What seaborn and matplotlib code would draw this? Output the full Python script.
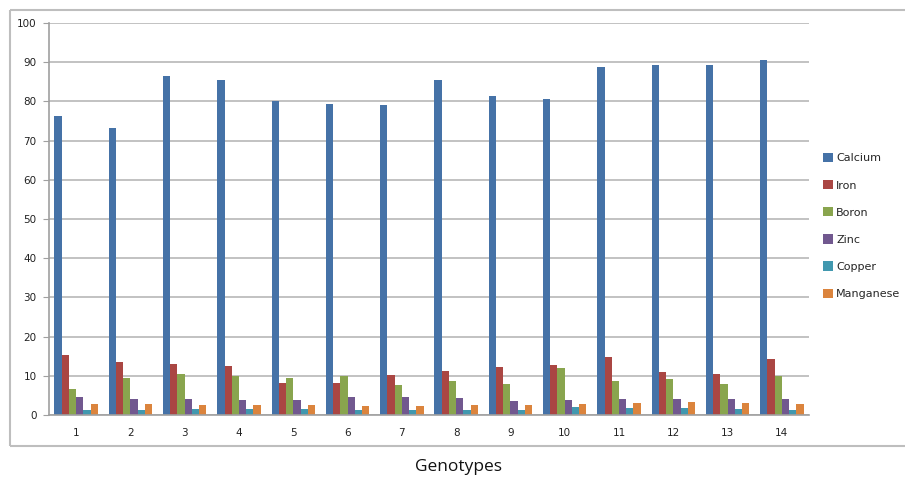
import matplotlib
matplotlib.use("Agg")
import matplotlib.pyplot as plt
import pandas as pd
import seaborn as sns
from matplotlib.lines import Line2D


genotypes = [str(i) for i in range(1, 15)]
minerals = ["Calcium", "Iron", "Boron", "Zinc", "Copper", "Manganese"]

calcium = [76.2, 73.3, 86.6, 85.5, 80.1, 79.3, 79.0, 85.5, 81.3, 80.6, 88.9, 89.4, 89.4, 90.6]
iron = [15.3, 13.6, 13.1, 12.5, 8.1, 8.1, 10.2, 11.2, 12.2, 12.8, 14.7, 11.0, 10.4, 14.2]
boron = [6.6, 9.5, 10.4, 9.9, 9.5, 9.9, 7.6, 8.6, 7.9, 12.0, 8.6, 9.3, 7.8, 9.9]
zinc = [4.6, 4.2, 4.0, 3.8, 3.7, 4.5, 4.5, 4.4, 3.5, 3.8, 4.2, 4.2, 4.2, 4.2]
copper = [1.4, 1.4, 1.6, 1.6, 1.6, 1.4, 1.4, 1.4, 1.4, 2.0, 1.8, 1.8, 1.5, 1.4]
manganese = [2.8, 2.8, 2.6, 2.5, 2.5, 2.2, 2.2, 2.6, 2.6, 2.8, 3.0, 3.2, 3.1, 2.9]

colors = ["#4572A7", "#AA4643", "#89A54E", "#71588F", "#4198AF", "#DB843D"]


def build_table() -> pd.DataFrame:
    series = [calcium, iron, boron, zinc, copper, manganese]
    rows = []
    for name, values in zip(minerals, series):
        for g, v in zip(genotypes, values):
            rows.append({"Genotype": g, "Mineral": name, "Value": v})
    return pd.DataFrame(rows)


def main() -> None:
    df = build_table()

    sns.set_style("white")
    plt.rcParams["font.family"] = ["DejaVu Sans"]

    fig = plt.figure(figsize=(9.08, 4.79), dpi=100)
    fig.patch.set_edgecolor("white")
    fig.patch.set_linewidth(0)
    ax = fig.add_axes([49 / 908, 1 - 415 / 479, (809 - 49) / 908, (415 - 23) / 479])

    sns.barplot(
        data=df, x="Genotype", y="Value", hue="Mineral",
        order=genotypes, hue_order=minerals, palette=colors,
        width=0.8, ax=ax, legend=True, saturation=1, linewidth=0,
    )

    ax.set_ylim(0, 100)
    ax.set_xlim(-0.5, 13.5)
    ax.set_yticks(range(0, 101, 10))
    ax.yaxis.grid(True, color="#B8B8B8", linewidth=1.2)
    ax.set_axisbelow(True)
    ax.set_xlabel("")
    ax.set_ylabel("")

    # category separators like the spreadsheet chart
    ax.set_xticks([i - 0.5 for i in range(15)], minor=True)
    ax.tick_params(axis="x", which="minor", length=5, color="#A0A0A0", width=1)
    ax.tick_params(axis="x", which="major", length=0, labelsize=7.5, pad=9, labelcolor="#222222")
    ax.tick_params(axis="y", length=4, color="#A0A0A0", labelsize=7.5, pad=5, left=True,
                   labelcolor="#222222")

    for side in ["top", "right"]:
        ax.spines[side].set_visible(False)
    for side in ["left", "bottom"]:
        ax.spines[side].set_color("#A0A0A0")
        ax.spines[side].set_linewidth(1.2)

    handles, labels = ax.get_legend_handles_labels()
    ax.get_legend().remove()
    fig.legend(
        handles, labels, loc="upper left", bbox_to_anchor=(813 / 908, 1 - 143 / 479),
        frameon=False, fontsize=8, handlelength=0.9, handleheight=0.9,
        handletextpad=0.3, labelspacing=1.5,
    )

    # outer chart frame: left, top and bottom edges only (right edge is cut off)
    x0, x1 = 10 / 908, 905 / 908
    y0, y1 = 1 - 446 / 479, 1 - 10 / 479
    frame = dict(transform=fig.transFigure, color="#BEBEBE", linewidth=1.5,
                 solid_capstyle="butt")
    fig.add_artist(Line2D([x0, x0], [y0, y1], **frame))
    fig.add_artist(Line2D([x0, x1], [y1, y1], **frame))
    fig.add_artist(Line2D([x0, x1], [y0, y0], **frame))

    fig.text(458 / 908, 1 - 467 / 479, "Genotypes", ha="center", va="center",
             fontsize=12.5, family=["Open Sans", "DejaVu Sans"], color="#111111")

    fig.savefig("out.png", dpi=100)
    plt.close(fig)


if __name__ == "__main__":
    main()
